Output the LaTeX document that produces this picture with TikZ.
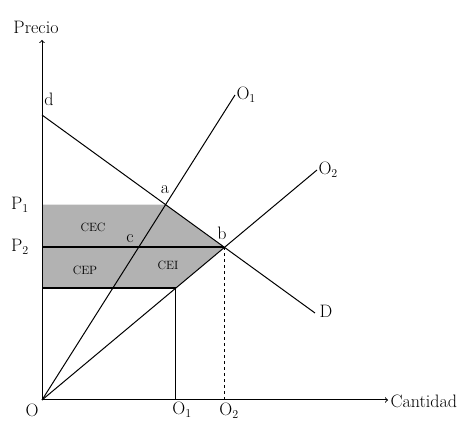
\documentclass[tikz,border=0pt]{standalone}
\begin{document}
\begin{tikzpicture}[x=1pt, y=-1pt, font=\fontsize{18}{20}\selectfont, line width=1pt]
  \tikzset{excedente/.style={fill=gray!60}, lbl/.style={inner sep=1pt},
    area/.style={inner sep=1pt, font=\fontsize{12}{14}\selectfont}}
  \useasboundingbox (0,0) rectangle (467,422);
  % ejes y curvas
  \coordinate (O) at (42,400);
  \coordinate (ytop) at (42,40);
  \coordinate (xend) at (388,400);
  \coordinate (dd) at (42,115);
  \coordinate (Dend) at (315,313);
  \coordinate (o1end) at (235,95);
  \coordinate (o2end) at (317,170);
  \coordinate (a) at (intersection of dd--Dend and O--o1end);
  \coordinate (b) at (intersection of dd--Dend and O--o2end);
  \coordinate (q1top) at (intersection of O--o2end and 0,288--400,288);
  % excedentes
  \fill[excedente] (O |- a) -- (a) -- (b) -- (q1top) -- (O |- q1top) -- cycle;
  \draw[line width=2.2pt] (O |- b) -- (b);
  \draw[line width=1.6pt] (O |- q1top) -- (q1top);
  \draw (q1top) -- (O -| q1top);
  \draw[dashed] (b) -- (O -| b);
  \draw (dd) -- (Dend);
  \draw (O) -- (o1end);
  \draw (O) -- (o2end);
  \draw[->] (O) -- (ytop);
  \draw[->] (O) -- (xend);
  % textos
  \node[lbl] (precio) at (36,27) {Precio};
  \node[lbl, anchor=west] (cantidad) at (389,401) {Cantidad};
  \node[lbl] (origen) at (32,410) {O};
  \node[lbl] (dlbl) at (49,99) {d};
  \node[lbl] (Dlbl) at (326,311) {D};
  \node[lbl, anchor=west] (o1lbl) at (o1end) {O$_1$};
  \node[lbl, anchor=west] (o2lbl) at (o2end) {O$_2$};
  \node[lbl] (p1) at (20,205) {P$_1$};
  \node[lbl] (p2) at (20,247) {P$_2$};
  \node[lbl] (albl) at (165,190) {a};
  \node[lbl] (blbl) at (222,233) {b};
  \node[lbl] (clbl) at (130,239) {c};
  \node[area] (cec) at (93,227) {CEC};
  \node[area] (cep) at (85,270) {CEP};
  \node[area] (cei) at (168,265) {CEI};
  \node[lbl] (q1) at (182,410) {O$_1$};
  \node[lbl] (q2) at (229,411) {O$_2$};
\end{tikzpicture}
\end{document}
